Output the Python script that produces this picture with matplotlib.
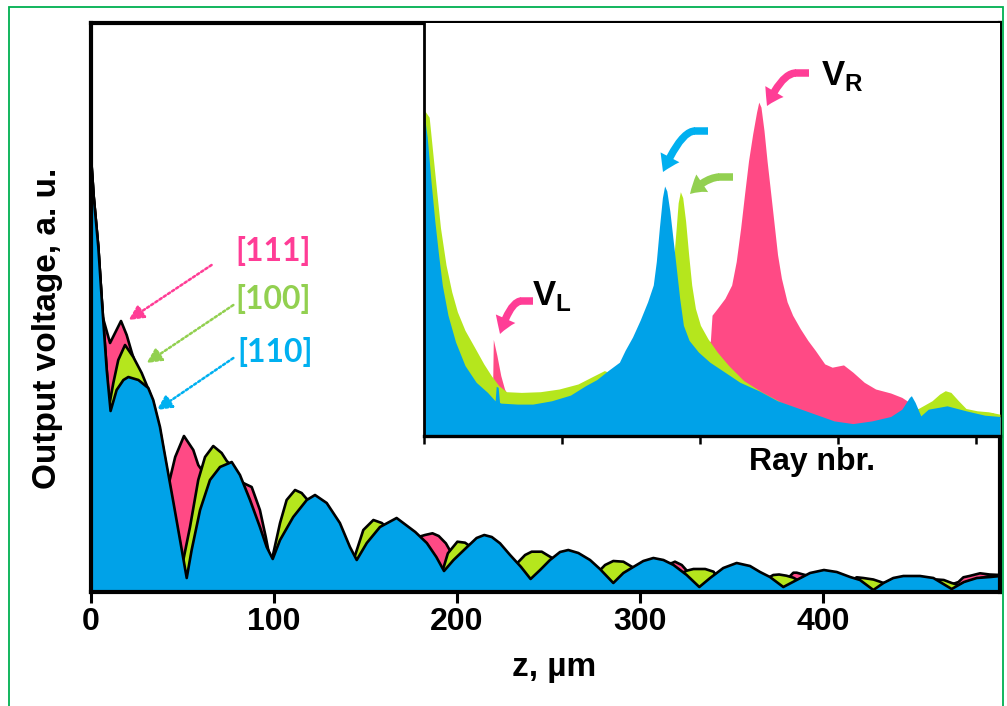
import numpy as np
import matplotlib
matplotlib.use("Agg")
import matplotlib.pyplot as plt
from matplotlib.patches import FancyArrowPatch, Rectangle
from matplotlib.lines import Line2D
from matplotlib.path import Path

# ---------------- main panel: output voltage vs. propagation depth z ----------------
z_111 = [0, 1.5, 4.0, 5.8, 6.4, 10.4, 16.4, 19.5, 22.2, 25.0, 28.0, 31.0, 34.0, 37.0, 39.5,
         41.0, 43.0, 46.0, 50.8, 55.9, 58.6, 62.0, 66.0, 70.0, 75.0, 80.0, 83.2, 87.8, 92.3,
         95.5, 97.5, 100.0, 103.0, 110.0, 118.0, 122.0, 128.0, 136.0, 141.0, 145.0, 150.0,
         158.0, 167.0, 172.0, 177.0, 182.5, 186.6, 190.0, 193.9, 196.0, 198.0, 200.0, 205.0,
         210.0, 215.0, 222.0, 230.0, 236.0, 240.0, 246.0, 252.0, 260.0, 268.0, 275.0, 280.0,
         285.0, 292.0, 300.0, 308.0, 314.0, 317.5, 319.1, 322.8, 325.5, 328.0, 332.0, 338.0,
         345.0, 352.0, 360.0, 366.0, 372.0, 378.0, 381.0, 383.8, 385.6, 390.2, 392.0, 400.0,
         408.0, 415.0, 420.0, 427.5, 433.0, 440.0, 450.0, 460.0, 468.0, 474.0, 476.7, 480.0,
         485.8, 491.0, 497.0]
v_111 = [435, 395, 345, 295, 275, 249, 271, 257, 240, 224, 212, 198, 183, 155, 125,
         100, 112, 135, 156, 142, 127, 118, 108, 102, 103, 106, 109, 105, 82,
         55, 36, 30, 40, 60, 75, 80, 72, 55, 35, 22, 38,
         55, 62, 60, 54, 57, 58.7, 56, 48.7, 42, 36, 36, 42,
         46, 48, 40, 25, 12, 15, 25, 30, 34, 30, 20, 12,
         15, 20, 27, 30, 28, 29, 30.3, 27, 21.5, 18, 12, 10,
         18, 24, 22, 14, 10, 8, 14, 19.3, 19.3, 17, 16, 18,
         15, 10, 8, 8, 6, 10, 12, 10, 6, 10, 14.7, 16,
         18.7, 17.5, 17]

z_100 = [0, 1.5, 4.0, 5.8, 8.6, 10.0, 12.2, 14.9, 18.6, 23.1, 27.7, 31.3, 34.0, 37.7, 42.2,
         45.9, 48.5, 50.0, 54.1, 58.6, 62.3, 66.8, 71.4, 74.2, 78.0, 82.0, 87.0, 92.0, 96.0,
         98.7, 103.3, 106.9, 111.5, 115.1, 117.9, 121.0, 128.0, 135.0, 140.0, 143.3, 148.8,
         154.3, 158.9, 160.7, 167.0, 177.0, 185.0, 190.0, 191.9, 195.0, 200.2, 204.4, 206.5,
         210.0, 215.0, 222.0, 226.0, 230.0, 233.5, 237.2, 240.8, 246.3, 250.8, 252.6, 256.0,
         262.0, 268.0, 273.0, 278.5, 280.9, 285.4, 290.9, 295.5, 297.0, 303.0, 310.0, 316.0,
         319.0, 322.0, 325.5, 329.2, 335.6, 340.2, 341.0, 345.0, 352.0, 360.0, 366.0, 369.0,
         372.8, 376.0, 380.0, 383.8, 386.0, 392.0, 400.0, 408.0, 413.0, 418.4, 422.0, 427.5,
         431.1, 433.0, 440.0, 450.0, 456.0, 462.2, 466.0, 470.3, 474.0, 484.0, 491.0, 497.0]
v_100 = [435, 395, 345, 295, 222, 187, 209, 232, 247, 235, 219, 203, 190, 162, 115,
         76, 50, 28, 65, 112, 135, 146, 139, 131, 124, 110, 88, 61, 40,
         31, 69, 92, 102, 99, 93, 92, 86, 68, 48, 31, 62,
         72, 69, 66, 70, 57, 42, 28, 20, 38.7, 50.3, 49.3, 46.5,
         50, 54, 46, 36, 18, 30, 37, 40.3, 40.3, 35.3, 33.5, 35,
         37, 30, 14, 22.5, 27, 31, 30.3, 25.3, 24, 28, 29, 22,
         12, 18, 21.3, 23, 23, 20.3, 18, 20, 25, 22, 12, 13,
         17, 17.5, 16.3, 14.3, 12, 15, 19, 16, 9, 14.7, 14, 12.5,
         10.3, 9, 12, 13, 6, 12.5, 12, 9, 7, 13, 16, 17]

z_110 = [0, 1.5, 4.0, 5.8, 8.6, 10.7, 14.0, 17.7, 20.4, 25.9, 31.3, 34.0, 37.7, 40.0, 45.0,
         50.0, 52.3, 55.0, 59.6, 65.0, 70.5, 76.9, 81.4, 86.9, 92.3, 96.0, 99.3, 103.3, 110.5,
         117.9, 122.4, 128.8, 136.0, 141.5, 145.2, 150.7, 157.9, 167.0, 177.2, 183.5, 188.7,
         192.9, 198.1, 205.5, 210.7, 214.9, 219.0, 223.5, 229.0, 235.0, 240.2, 245.4, 250.8,
         256.3, 260.8, 266.3, 272.7, 278.1, 285.4, 290.9, 296.3, 301.8, 307.3, 312.8, 318.3,
         325.5, 332.4, 338.3, 345.5, 352.8, 360.1, 365.6, 371.0, 378.3, 385.6, 392.9, 400.5,
         407.5, 414.8, 420.2, 427.5, 433.0, 438.4, 443.9, 453.0, 460.3, 470.3, 477.0, 484.0,
         491.3, 497.0]
v_110 = [435, 395, 345, 295, 222, 181, 202, 212, 215, 212, 204, 192, 165, 141, 90,
         38, 14, 42, 82, 112, 125, 130, 117, 92, 65, 45, 33, 52, 75,
         92, 97, 89, 69, 45, 32, 49, 65, 74, 60, 49, 35,
         21, 32, 45, 54, 57, 55, 48.7, 37, 25, 13, 22, 32,
         40, 42, 39, 32, 23, 9, 19, 25, 31, 34, 32, 27,
         17, 5, 14, 24, 29, 26, 20, 15, 5, 12, 19, 22,
         20, 15, 12, 2, 9, 14, 16, 16, 14, 3, 10, 14,
         15, 16]

z_ticks = [0, 100, 200, 300, 400]
orient_labels = ["[111]", "[100]", "[110]"]

# ---------------- inset: signal vs. ray number ----------------
ray_111 = [0, 5.4, 10.9, 17.7, 23.2, 30.0, 38.1, 46.3, 49.9, 50.5, 53.1, 55.9, 58.6, 60.5,
           70.0, 90.0, 110.0, 130.0, 150.0, 170.0, 190.0, 200.0, 205.0, 207.5, 208.7, 212.5,
           218.0, 222.9, 226.2, 229.4, 232.2, 235.1, 238.1, 240.9, 242.5, 244.1, 246.3, 248.5,
           250.7, 253.4, 256.1, 258.9, 263.0, 267.0, 272.5, 278.0, 283.4, 290.2, 295.6, 303.8,
           310.6, 318.8, 327.0, 337.9, 346.0, 351.5, 359.7, 367.8, 392.4, 411.4, 417.0]
w_111 = [320, 245, 172, 112, 85, 62, 47, 38, 40, 96.6, 80.5, 60.4, 47, 42,
         30, 30, 38, 50, 65, 78, 88, 90, 92, 95, 120.8, 127.5,
         137.6, 151, 174.5, 208, 241.6, 275.2, 302, 323.8, 333.9, 328.9, 305.4, 275.2,
         248.3, 214.8, 181.2, 157.7, 134.2, 120.8, 107.4, 95.6, 85.6, 72.1, 68.8, 71.1,
         63.8, 53.7, 47, 43, 38.6, 33.6, 25.2, 21.8, 18.5, 23.5, 18.5]

ray_100 = [0, 4.1, 6.8, 9.5, 12.3, 16.3, 20.4, 24.5, 30.0, 36.8, 43.6, 49.0, 54.5, 60.0,
           70.8, 84.5, 98.1, 111.7, 122.6, 130.8, 137.0, 144.4, 152.6, 160.8, 166.2, 171.7,
           177.1, 180.4, 182.6, 184.2, 185.8, 187.5, 189.6, 191.8, 194.0, 196.7, 200.3, 205.7,
           212.5, 220.7, 231.6, 245.2, 258.9, 275.2, 291.6, 305.2, 316.1, 324.3, 340.6, 357.0,
           367.8, 373.3, 377.4, 381.5, 387.0, 392.4, 400.5, 408.7, 417.0]
w_100 = [327, 318.8, 281.9, 245, 208, 171, 144.3, 124.2, 105.7, 89, 72.1, 60.4, 50.3, 44.3,
         43.6, 44.3, 47, 52, 59.7, 65.4, 62, 60.4, 70.5, 85.6, 100.7, 120.8,
         140.9, 167.8, 204.7, 233.2, 244.3, 238.3, 214.8, 181.2, 151, 127.5, 110.7, 97.3,
         83.9, 70.5, 55.4, 43.6, 33.6, 25.2, 16.8, 11.7, 9.4, 10.1, 16.8, 26.8,
         35.2, 41.9, 45.3, 43.6, 35.2, 27.5, 25.2, 24.2, 21.8]

ray_110 = [0, 2.7, 5.4, 8.2, 10.9, 13.6, 17.7, 23.2, 30.0, 38.1, 46.3, 51.8, 52.6, 54.0,
           55.0, 55.9, 68.1, 79.0, 92.6, 106.3, 117.2, 125.3, 133.5, 141.7, 145.8, 151.2,
           156.7, 162.1, 166.2, 168.4, 170.6, 172.8, 174.4, 176.0, 178.2, 180.4, 182.6, 185.3,
           188.0, 192.1, 198.9, 207.1, 218.0, 228.9, 242.5, 256.1, 269.8, 283.4, 297.0, 310.6,
           324.3, 337.9, 346.0, 351.5, 352.9, 355.6, 359.7, 365.1, 378.7, 392.4, 406.0, 417.0]
w_110 = [327, 298.7, 255, 214.8, 181.2, 151, 120.8, 94, 70.5, 53.7, 43.6, 35.2, 49.7, 48.7,
         33.6, 32.9, 31.9, 31.9, 35.2, 40.9, 50.3, 56.4, 65.4, 73.8, 85.6, 99,
         115.8, 134.2, 151, 174.5, 208, 238.3, 250, 245, 224.8, 198, 171, 137.6,
         110.7, 95.6, 83.9, 73.8, 63.8, 53.7, 45.3, 35.2, 28.5, 21.8, 15.1, 12.4,
         15.1, 19.5, 26.8, 38.6, 40.3, 33.6, 20.1, 26.8, 30.2, 25.2, 20.8, 19.5]

ray_ticks = [0, 100, 200, 300, 400]

# ---------------- styling ----------------
FILL_111 = "#FF4A85"
FILL_100 = "#B5E61D"
FILL_110 = "#00A2E8"
TXT_111 = "#FF3D96"
TXT_100 = "#92D050"
TXT_110 = "#00B0F0"
BORDER = "#00B050"
SANS = ["Liberation Sans", "DejaVu Sans"]

W, H = 1007, 706
fig = plt.figure(figsize=(W / 100, H / 100), dpi=100)
fig.patch.set_facecolor("white")


def fx(px):
    return px / W


def fy(py):
    return (H - py) / H


# green frame around the figure
fig.patches.append(Rectangle((fx(9), fy(712)), fx(994), (712 - 7) / H, transform=fig.transFigure,
                             fill=False, edgecolor=BORDER, linewidth=1.3))

L, R, T, B = 91, 1000, 22.5, 592
ax = fig.add_axes([fx(L), fy(B), fx(R - L), (B - T) / H])

series = [(z_111, v_111, FILL_111), (z_100, v_100, FILL_100), (z_110, v_110, FILL_110)]
for k, (z, v, c) in enumerate(series):
    ax.fill_between(z, 0, v, color=c, linewidth=0, zorder=1 + 0.2 * k)
    ax.plot(z, v, color="black", linewidth=1.9, solid_joinstyle="round", zorder=1.1 + 0.2 * k)

ax.set_xlim(0, 496.7)
ax.set_ylim(0, 569.5)
ax.set_xticks(z_ticks)
ax.set_yticks([])
for s in ax.spines.values():
    s.set_linewidth(3.0)
ax.tick_params(axis="x", direction="out", length=8, width=2.2, pad=3)
for lab in ax.get_xticklabels():
    lab.set_fontfamily(SANS)
    lab.set_fontweight("bold")
    lab.set_fontsize(23)

ax.set_xlabel("z, µm", fontsize=24, fontweight="bold", family=SANS)
ax.xaxis.set_label_coords((554 - L) / (R - L), (B - 652) / (B - T))
ax.set_ylabel("Output voltage, a. u.", fontsize=24, fontweight="bold", family=SANS)
ax.yaxis.set_label_coords((63 - L) / (R - L), (B - 328) / (B - T))

# orientation labels with dotted pointers
label_cols = [TXT_111, TXT_100, TXT_110]
label_pos = [(99.5, 341), (99.5, 293), (100.5, 240)]
arrow_from = [(65.9, 327), (77.8, 287), (77.8, 234)]
arrow_to = [(20.6, 272), (30.4, 229), (36.0, 182)]
for txt, c, p, a0, a1 in zip(orient_labels, label_cols, label_pos, arrow_from, arrow_to):
    ax.text(p[0], p[1], txt, color=c, fontsize=23, fontweight="bold", family=["Lato", "DejaVu Sans"],
            ha="center", va="center", zorder=5)
    ax.annotate("", xy=a1, xytext=a0,
                arrowprops=dict(arrowstyle="-|>,head_length=0.9,head_width=0.45", color=c,
                                lw=1.8, linestyle=(0, (1, 1)), shrinkA=0, shrinkB=0), zorder=5)

# ---------------- inset ----------------
IL, IB = 423.5, 436
axi = fig.add_axes([fx(IL), fy(IB), fx(R - IL), (IB - T) / H])
axi.set_zorder(3)
inset_series = [(ray_111, w_111, FILL_111), (ray_100, w_100, FILL_100), (ray_110, w_110, FILL_110)]
for k, (r, w, c) in enumerate(inset_series):
    axi.fill_between(r, 0, w, color=c, linewidth=0, zorder=1 + 0.2 * k)
axi.set_xlim(0, 417)
axi.set_ylim(0, 413.5)
axi.set_xticks(ray_ticks)
axi.set_xticklabels([])
axi.set_yticks([])
axi.spines["top"].set_visible(False)
axi.spines["right"].set_visible(False)
axi.spines["left"].set_linewidth(2.0)
axi.spines["bottom"].set_linewidth(2.4)
axi.tick_params(axis="x", direction="out", length=6, width=1.8)
axi.set_xlabel("Ray nbr.", fontsize=23, fontweight="bold", family=SANS)
axi.xaxis.set_label_coords((812 - IL) / (R - IL), (IB - 447) / (IB - T))

# bent arrows (short horizontal stub, then a bend down to the head) and V_L / V_R labels
TAIL = 0.3
MS = 18
bent = [((809, 73), (796, 73), (782, 73), (767, 106), TXT_111),
        ((708, 131), (695, 131), (681, 131), (663, 172), TXT_110),
        ((733, 177), (719, 177), (705, 178), (690, 194), TXT_100),
        ((533, 301), (521, 301), (510, 302), (500, 334), TXT_111)]
for p0, ps, pc, p1, c in bent:
    fig.add_artist(Line2D([fx(p0[0]), fx(ps[0] - 1)], [fy(p0[1]), fy(ps[1])], transform=fig.transFigure,
                          color=c, linewidth=TAIL * MS, solid_capstyle="butt", zorder=10))
    path = Path([(fx(ps[0]), fy(ps[1])), (fx(pc[0]), fy(pc[1])), (fx(p1[0]), fy(p1[1]))],
                [Path.MOVETO, Path.CURVE3, Path.CURVE3])
    fig.add_artist(FancyArrowPatch(path=path, transform=fig.transFigure,
                                   arrowstyle=f"simple,head_length=0.65,head_width=0.85,tail_width={TAIL}",
                                   mutation_scale=MS, color=c, linewidth=0, zorder=10))

fig.text(fx(821), fy(85), r"V$_\mathregular{R}$", fontsize=25, fontweight="bold", family=SANS,
         color="black", ha="left", va="baseline", zorder=11)
fig.text(fx(532), fy(305), r"V$_\mathregular{L}$", fontsize=25, fontweight="bold", family=SANS,
         color="black", ha="left", va="baseline", zorder=11)

fig.savefig("out.png", dpi=100, facecolor="white")
